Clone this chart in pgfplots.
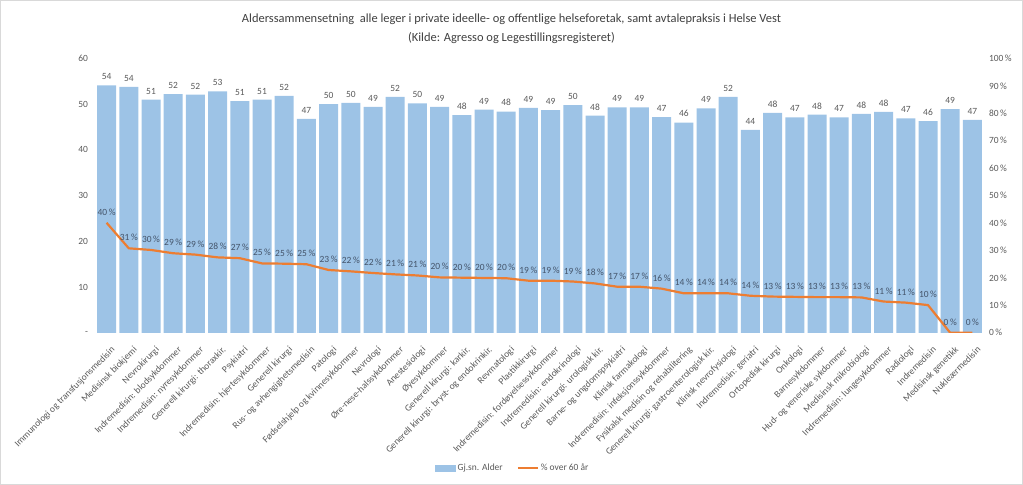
\documentclass[border=0pt]{standalone}
\usepackage{pgfplots}
\usepackage{pgfplotstable}
\pgfplotsset{compat=1.18}
\pgfkeys{/pgf/number format/assume math mode=true}
\usepackage{fontspec}
\setmainfont{Carlito}
\definecolor{barblue}{HTML}{9DC3E6}
\definecolor{lineorange}{HTML}{ED7D31}
\definecolor{txtgray}{HTML}{595959}
\definecolor{pctblue}{HTML}{44546A}
\definecolor{framegray}{HTML}{D9D9D9}

\pgfplotstableread{
x age pct
0 54.1 40.1
1 53.8 30.8
2 51.0 30.2
3 52.2 29.0
4 52.1 28.5
5 52.8 27.5
6 50.7 27.2
7 51.0 25.3
8 51.8 25.2
9 46.8 25.0
10 50.0 22.9
11 50.3 22.4
12 49.4 21.8
13 51.6 21.3
14 50.2 20.9
15 49.4 20.2
16 47.6 20.1
17 48.8 20.0
18 48.4 19.9
19 49.2 19.0
20 48.7 19.0
21 49.8 18.7
22 47.5 18.0
23 49.3 16.8
24 49.3 16.8
25 47.2 16.1
26 46.0 14.4
27 49.1 14.4
28 51.6 14.4
29 44.4 13.5
30 48.1 13.2
31 47.1 13.1
32 47.7 13.0
33 47.1 13.0
34 47.9 12.9
35 48.3 11.4
36 46.9 11.0
37 46.3 10.1
38 48.9 0.0
39 46.6 0.0
}\datatable

\begin{document}
\begin{tikzpicture}
\draw[framegray, line width=1bp] (0.5bp,0.5bp) rectangle (1022.5bp,484.5bp);
\node[font=\fontsize{12.5}{19}\selectfont, text=black!75, align=center] at (511.5bp,456bp)
  {Alderssammensetning\ \ alle leger i private ideelle- og offentlige helseforetak, samt avtalepraksis i Helse Vest\\(Kilde: Agresso og Legestillingsregisteret)};
\begin{axis}[
  at={(95.5bp,152.2bp)}, anchor=south west,
  scale only axis, width=888bp, height=274.3bp,
  xmin=-0.5, xmax=39.5, ymin=0, ymax=60,
  axis line style={draw=none}, tick style={draw=none},
  ybar, bar width=19bp,
  ytick={0,10,20,30,40,50,60},
  yticklabels={-,10,20,30,40,50,60},
  yticklabel style={font=\fontsize{9.5}{11}\selectfont, text=txtgray, xshift=-4bp},
  xtick={0,...,39},
  xticklabels={Immunologi og transfusjonsmedisin, Medisinsk biokjemi, Nevrokirurgi, Indremedisin: blodsykdommer, Indremedisin: nyresykdommer, Generell kirurgi: thoraxkir., Psykiatri, Indremedisin: hjertesykdommer, Generell kirurgi, Rus- og avhengighetsmedisin, Patologi, Fødselshjelp og kvinnesykdommer, Nevrologi, Øre-nese-halssykdommer, Anestesiologi, Øyesykdommer, Generell kirurgi: karkir., Generell kirurgi: bryst- og endokrinkir., Revmatologi, Plastikkirurgi, Indremedisin: fordøyelsessykdommer, Indremedisin: endokrinologi, Generell kirurgi: urologisk kir., Barne- og ungdomspsykiatri, Klinisk farmakologi, Indremedisin: infeksjonssykdommer, Fysikalsk medisin og rehabilitering, Generell kirurgi: gastroenterologisk kir., Klinisk nevrofysiologi, Indremedisin: geriatri, Ortopedisk kirurgi, Onkologi, Barnesykdommer, Hud- og veneriske sykdommer, Medisinsk mikrobiologi, Indremedisin: lungesykdommer, Radiologi, Indremedisin, Medisinsk genetikk, Nukleærmedisin},
  xticklabel style={xshift=4bp, yshift=-7bp, font=\fontsize{9.5}{11}\selectfont, text=txtgray, rotate=45, anchor=north east, inner sep=1pt},
  nodes near coords={\pgfmathprintnumber[fixed,precision=0]{\pgfplotspointmeta}},
  every node near coord/.append style={font=\fontsize{9.5}{11}\selectfont, text=txtgray, yshift=2bp},
]
\addplot[fill=barblue, draw=none] table[x=x, y=age] {\datatable};
\end{axis}
\begin{axis}[
  at={(95.5bp,152.2bp)}, anchor=south west,
  scale only axis, width=888bp, height=274.3bp,
  xmin=-0.5, xmax=39.5, ymin=0, ymax=100,
  axis y line*=right, hide x axis,
  axis line style={draw=none}, tick style={draw=none},
  ytick={0,10,...,100},
  yticklabels={0\,\%,10\,\%,20\,\%,30\,\%,40\,\%,50\,\%,60\,\%,70\,\%,80\,\%,90\,\%,100\,\%},
  yticklabel style={font=\fontsize{9.5}{11}\selectfont, text=txtgray, xshift=2bp},
  legend columns=2,
  legend style={at={(0.47,-0.493)}, anchor=center, draw=none, fill=none,
    font=\fontsize{9.5}{11}\selectfont, text=txtgray,
    /tikz/every even column/.append style={column sep=12bp}},
]
\addlegendimage{legend image code/.code={\fill[barblue] (0bp,-3bp) rectangle (20bp,3bp);}}
\addlegendentry{Gj.sn. Alder}
\addplot[lineorange, line width=2.2bp, mark=none,
  nodes near coords={\pgfmathprintnumber[fixed,precision=0]{\pgfplotspointmeta}\,\%},
  every node near coord/.append style={font=\fontsize{9.5}{11}\selectfont, text=pctblue, anchor=south, yshift=3bp},
  legend image code/.code={\draw[lineorange, line width=2bp] (0bp,0bp) -- (20bp,0bp);}
] table[x=x, y=pct] {\datatable};
\addlegendentry{\% over 60 år}
\end{axis}
\end{tikzpicture}
\end{document}
